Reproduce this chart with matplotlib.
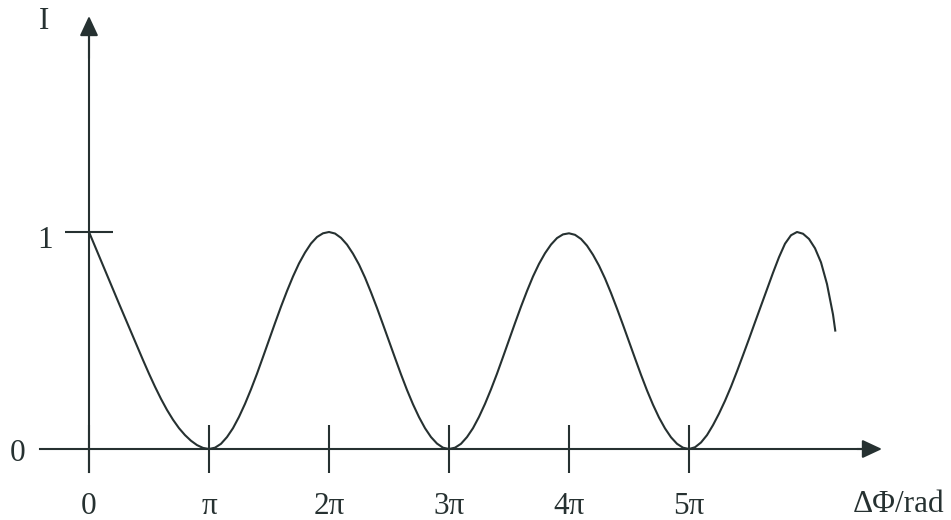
#!/usr/bin/env python3
"""Interference intensity I versus phase difference, redrawn from a textbook figure."""

import matplotlib

matplotlib.use("Agg")
import matplotlib.pyplot as plt

# phase difference in units of pi, and intensity
phase = [
    0.00, 0.05, 0.10, 0.15, 0.20, 0.25, 0.30, 0.35, 0.40, 0.45,
    0.50, 0.55, 0.60, 0.65, 0.70, 0.75, 0.80, 0.85, 0.90, 0.95,
    1.00, 1.05, 1.10, 1.15, 1.20, 1.25, 1.30, 1.35, 1.40, 1.45,
    1.50, 1.55, 1.60, 1.65, 1.70, 1.75, 1.80, 1.85, 1.90, 1.95,
    2.00, 2.05, 2.10, 2.15, 2.20, 2.25, 2.30, 2.35, 2.40, 2.45,
    2.50, 2.55, 2.60, 2.65, 2.70, 2.75, 2.80, 2.85, 2.90, 2.95,
    3.00, 3.05, 3.10, 3.15, 3.20, 3.25, 3.30, 3.35, 3.40, 3.45,
    3.50, 3.55, 3.60, 3.65, 3.70, 3.75, 3.80, 3.85, 3.90, 3.95,
    4.00, 4.05, 4.10, 4.15, 4.20, 4.25, 4.30, 4.35, 4.40, 4.45,
    4.50, 4.55, 4.60, 4.65, 4.70, 4.75, 4.80, 4.85, 4.90, 4.95,
    5.00, 5.05, 5.10, 5.15, 5.20, 5.25, 5.30, 5.35, 5.40, 5.45,
    5.50, 5.55, 5.60, 5.65, 5.70, 5.75, 5.80, 5.85, 5.90, 5.95,
    6.00, 6.05, 6.10, 6.15, 6.20, 6.22,
]
intensity = [
    1.000, 0.934, 0.868, 0.802, 0.736, 0.670, 0.605, 0.540, 0.475, 0.410,
    0.347, 0.287, 0.231, 0.180, 0.135, 0.096, 0.064, 0.038, 0.018, 0.005,
    0.000, 0.006, 0.024, 0.055, 0.096, 0.148, 0.208, 0.275, 0.347, 0.424,
    0.502, 0.580, 0.656, 0.728, 0.795, 0.855, 0.905, 0.947, 0.977, 0.994,
    1.000, 0.993, 0.973, 0.942, 0.900, 0.850, 0.790, 0.722, 0.650, 0.574,
    0.497, 0.420, 0.344, 0.272, 0.206, 0.147, 0.096, 0.055, 0.025, 0.006,
    0.000, 0.006, 0.024, 0.055, 0.096, 0.148, 0.208, 0.275, 0.347, 0.424,
    0.502, 0.580, 0.656, 0.728, 0.795, 0.853, 0.902, 0.942, 0.972, 0.989,
    0.994, 0.987, 0.968, 0.937, 0.895, 0.845, 0.786, 0.719, 0.647, 0.572,
    0.495, 0.418, 0.342, 0.270, 0.204, 0.145, 0.095, 0.054, 0.024, 0.006,
    0.000, 0.008, 0.030, 0.064, 0.110, 0.163, 0.222, 0.287, 0.358, 0.432,
    0.507, 0.584, 0.660, 0.736, 0.812, 0.884, 0.946, 0.985, 1.000, 0.992,
    0.968, 0.925, 0.860, 0.760, 0.620, 0.541,
]

x_ticks = [0, 1, 2, 3, 4, 5]
x_tick_labels = ["0", "π", "2π", "3π", "4π", "5π"]
y_tick = 1

INK = "#263131"
FONT = "Liberation Serif"
SIZE = 22.5

fig = plt.figure(figsize=(9.51, 5.20), dpi=100)
ax = fig.add_axes([0, 0, 1, 1])
ax.set_xlim(-89 / 120, 862 / 120)
ax.set_ylim(-71 / 217, 449 / 217)
ax.set_facecolor("white")

for side in ("top", "right"):
    ax.spines[side].set_visible(False)
ax.spines["left"].set_position(("data", 0))
ax.spines["bottom"].set_position(("data", 0))
ax.spines["left"].set_bounds(-0.106, 1.90)
ax.spines["bottom"].set_bounds(-0.41, 6.50)
for side in ("left", "bottom"):
    ax.spines[side].set_color(INK)
    ax.spines[side].set_linewidth(1.5)

# arrow heads
head = dict(arrowstyle="-|>,head_length=0.6,head_width=0.28", mutation_scale=20,
            color=INK, lw=1.5, shrinkA=0, shrinkB=0)
ax.annotate("", xy=(0, 433 / 217), xytext=(0, 1.80), arrowprops=head)
ax.annotate("", xy=(793 / 120, 0), xytext=(6.40, 0), arrowprops=head)

ax.set_xticks(x_ticks)
ax.set_xticklabels(x_tick_labels, fontfamily=FONT, fontsize=SIZE, color=INK)
ax.set_yticks([y_tick])
ax.set_yticklabels([])
ax.tick_params(axis="both", direction="inout", length=34.5, width=1.5, color=INK)
ax.tick_params(axis="x", pad=14)

ax.plot(phase, intensity, color=INK, lw=1.5, solid_capstyle="butt")

text_kw = dict(fontfamily=FONT, fontsize=SIZE, color=INK, ha="center", va="center")
ax.text(-0.375, 1.972, "I", **text_kw)
ax.text(-0.367, 0.963, "1", **text_kw)
ax.text(-0.592, -0.023, "0", **text_kw)
ax.text(6.75, -0.258, "ΔΦ/rad", **text_kw)

fig.savefig("out.png", dpi=100, facecolor="white")
